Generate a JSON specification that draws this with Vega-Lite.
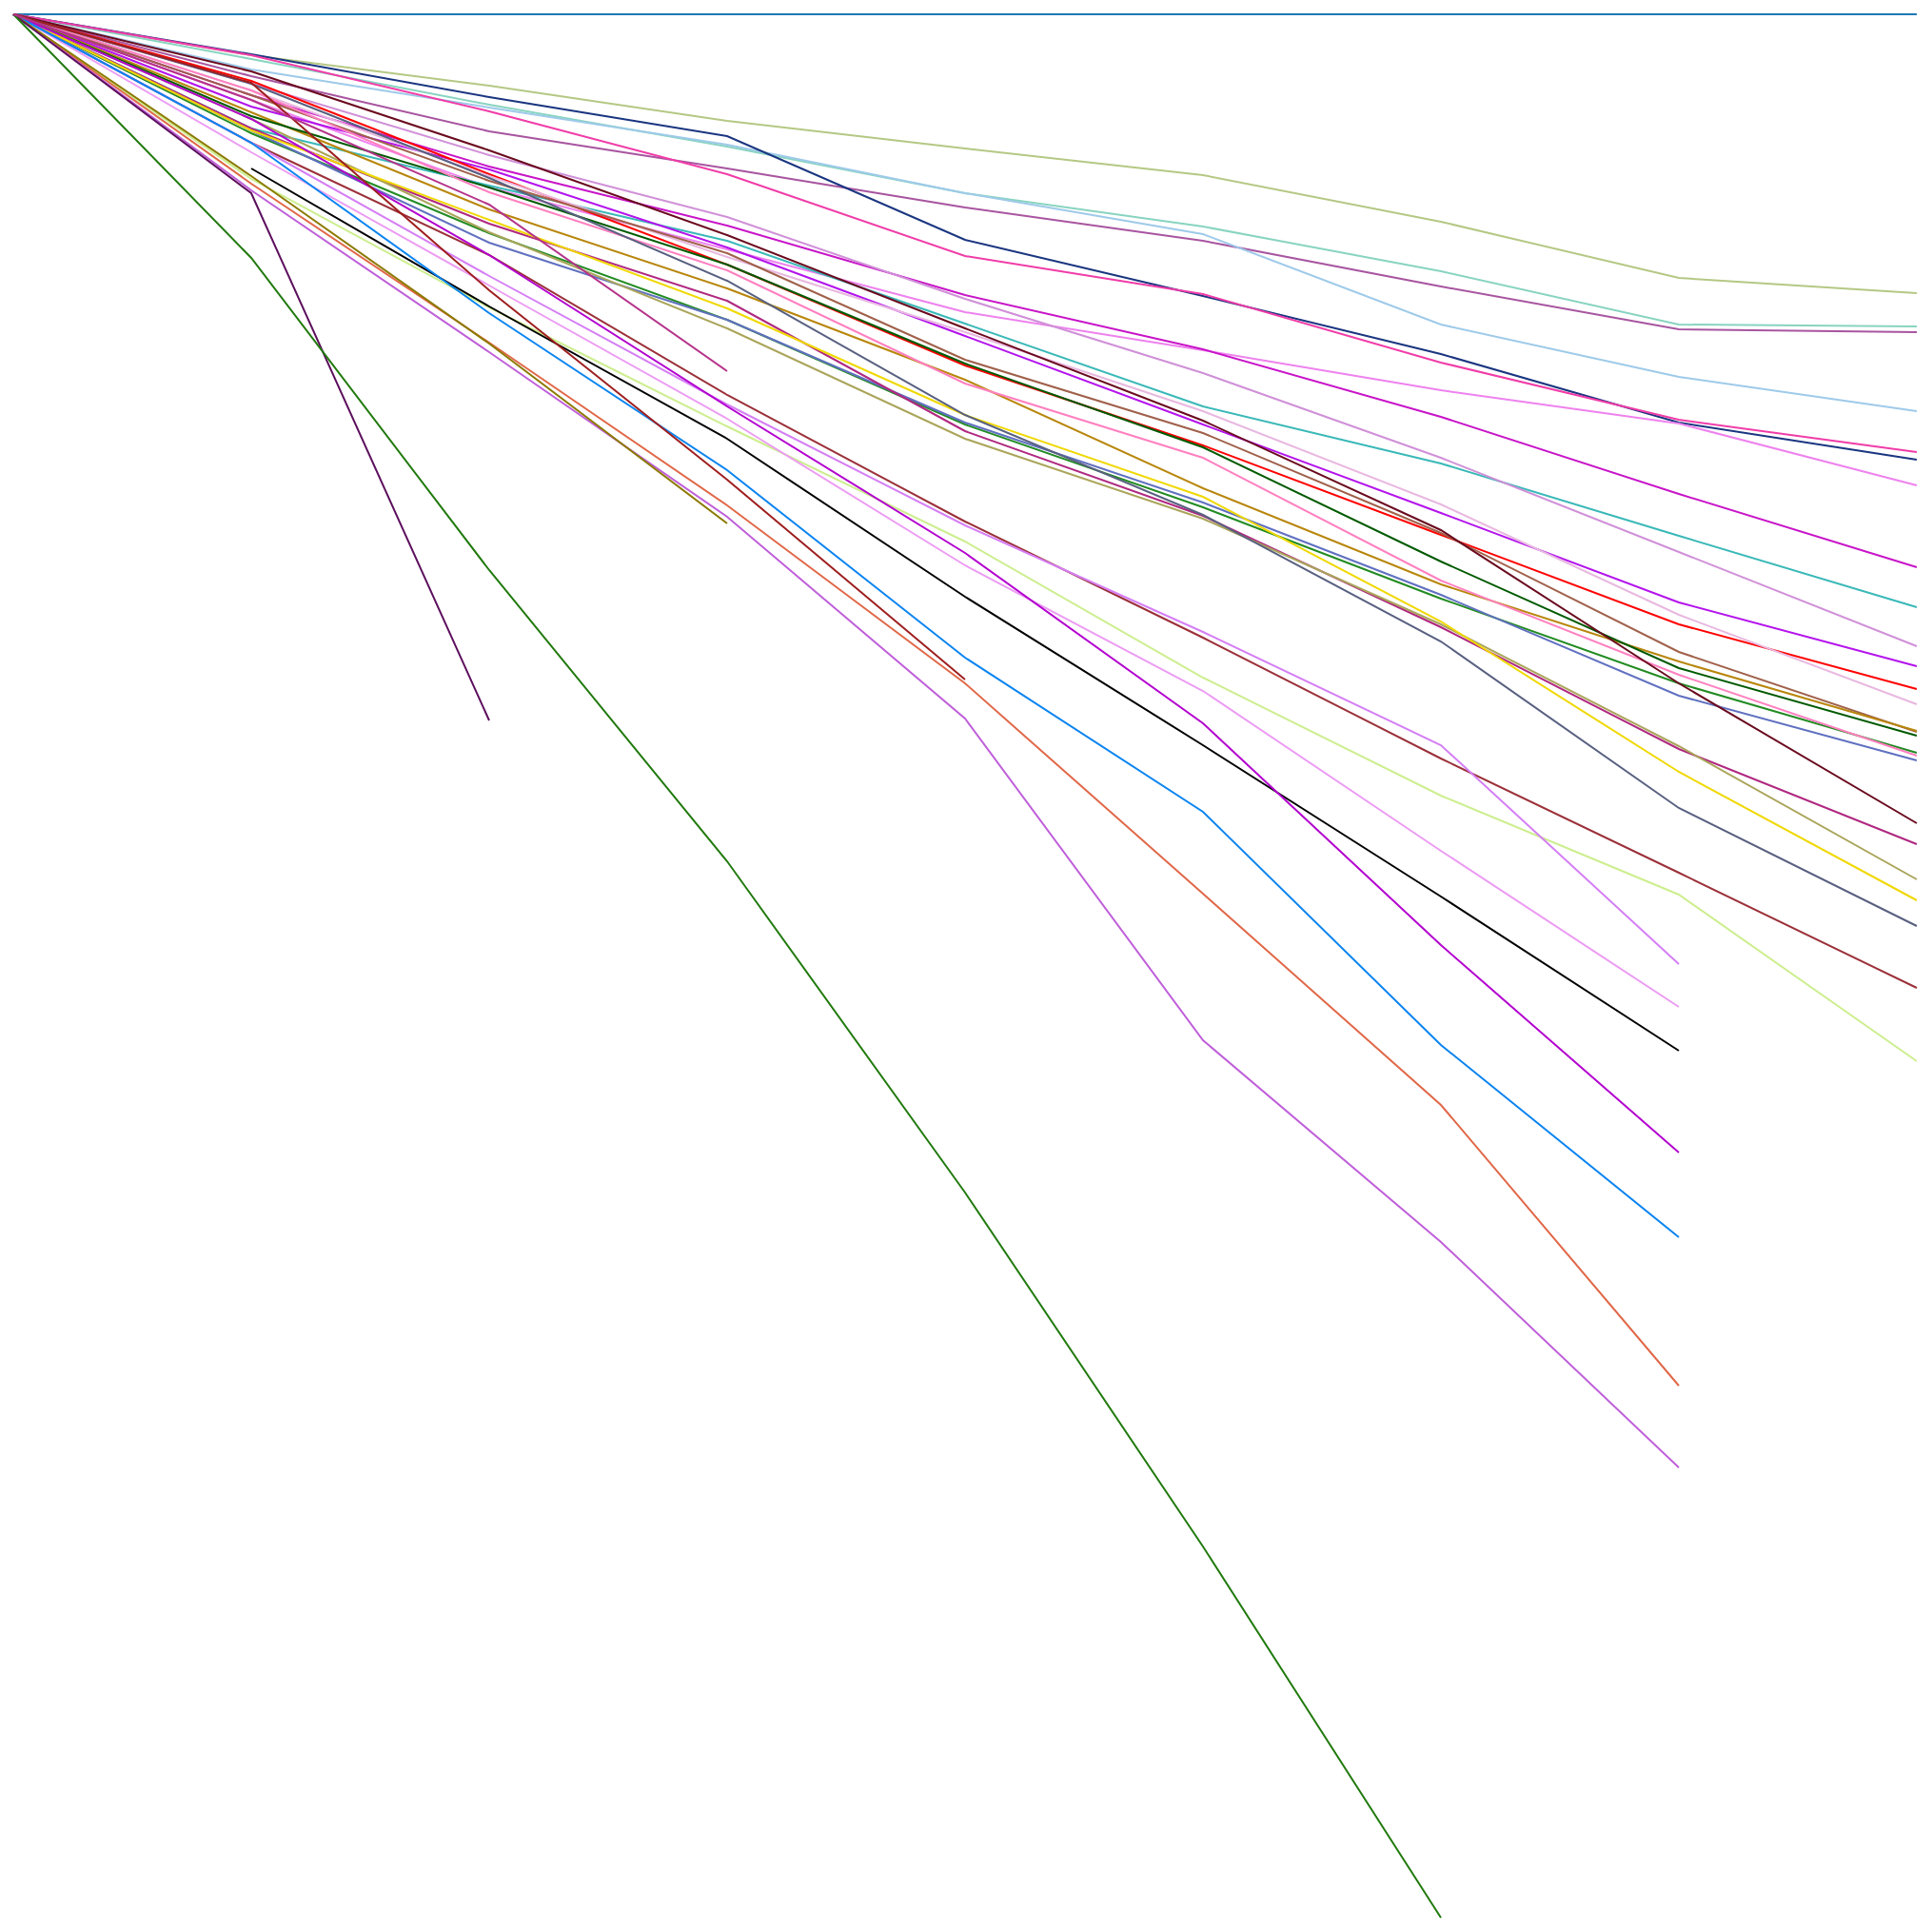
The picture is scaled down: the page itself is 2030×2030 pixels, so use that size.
{
  "$schema": "https://vega.github.io/schema/vega-lite/v6.json",
  "width": 2000,
  "height": 2000,
  "autosize": {"type": "none"},
  "padding": {"left": 14, "top": 15, "right": 16, "bottom": 15},
  "background": "white",
  "config": {"view": {"stroke": null}},
  "data": {"values": [
    {"s":"A","x":0,"v":100},{"s":"A","x":1,"v":100},{"s":"A","x":2,"v":100},{"s":"A","x":3,"v":100},{"s":"A","x":4,"v":100},{"s":"A","x":5,"v":100},{"s":"A","x":6,"v":100},{"s":"A","x":7,"v":100},{"s":"A","x":8,"v":100},
    {"s":"B","x":0,"v":100},{"s":"B","x":1,"v":97.85},{"s":"B","x":2,"v":96.25},{"s":"B","x":3,"v":94.4},{"s":"B","x":4,"v":92.95},{"s":"B","x":5,"v":91.55},{"s":"B","x":6,"v":89.1},{"s":"B","x":7,"v":86.15},{"s":"B","x":8,"v":85.35},
    {"s":"C","x":0,"v":100},{"s":"C","x":1,"v":97.65},{"s":"C","x":2,"v":95.25},{"s":"C","x":3,"v":93.05},{"s":"C","x":4,"v":90.6},{"s":"C","x":5,"v":88.85},{"s":"C","x":6,"v":86.5},{"s":"C","x":7,"v":83.7},{"s":"C","x":8,"v":83.6},
    {"s":"D","x":0,"v":100},{"s":"D","x":1,"v":96.75},{"s":"D","x":2,"v":93.85},{"s":"D","x":3,"v":91.9},{"s":"D","x":4,"v":89.85},{"s":"D","x":5,"v":88.1},{"s":"D","x":6,"v":85.7},{"s":"D","x":7,"v":83.45},{"s":"D","x":8,"v":83.3},
    {"s":"E","x":0,"v":100},{"s":"E","x":1,"v":97.1},{"s":"E","x":2,"v":95.1},{"s":"E","x":3,"v":93.15},{"s":"E","x":4,"v":90.6},{"s":"E","x":5,"v":88.45},{"s":"E","x":6,"v":83.7},{"s":"E","x":7,"v":80.95},{"s":"E","x":8,"v":79.15},
    {"s":"F","x":0,"v":100},{"s":"F","x":1,"v":97.9},{"s":"F","x":2,"v":95.65},{"s":"F","x":3,"v":93.6},{"s":"F","x":4,"v":88.15},{"s":"F","x":5,"v":85.2},{"s":"F","x":6,"v":82.15},{"s":"F","x":7,"v":78.55},{"s":"F","x":8,"v":76.6},
    {"s":"G","x":0,"v":100},{"s":"G","x":1,"v":97.85},{"s":"G","x":2,"v":94.9},{"s":"G","x":3,"v":91.6},{"s":"G","x":4,"v":87.3},{"s":"G","x":5,"v":85.3},{"s":"G","x":6,"v":81.7},{"s":"G","x":7,"v":78.7},{"s":"G","x":8,"v":77.0},
    {"s":"H","x":0,"v":100},{"s":"H","x":1,"v":95.5},{"s":"H","x":2,"v":90.9},{"s":"H","x":3,"v":87.65},{"s":"H","x":4,"v":84.35},{"s":"H","x":5,"v":82.35},{"s":"H","x":6,"v":80.25},{"s":"H","x":7,"v":78.5},{"s":"H","x":8,"v":75.25},
    {"s":"I","x":0,"v":100},{"s":"I","x":1,"v":95.75},{"s":"I","x":2,"v":92.0},{"s":"I","x":3,"v":88.9},{"s":"I","x":4,"v":85.25},{"s":"I","x":5,"v":82.4},{"s":"I","x":6,"v":78.85},{"s":"I","x":7,"v":74.8},{"s":"I","x":8,"v":70.95},
    {"s":"J","x":0,"v":100},{"s":"J","x":1,"v":94.0},{"s":"J","x":2,"v":91.0},{"s":"J","x":3,"v":88.1},{"s":"J","x":4,"v":83.75},{"s":"J","x":5,"v":79.4},{"s":"J","x":6,"v":76.4},{"s":"J","x":7,"v":72.6},{"s":"J","x":8,"v":68.85},
    {"s":"K","x":0,"v":100},{"s":"K","x":1,"v":96.35},{"s":"K","x":2,"v":92.6},{"s":"K","x":3,"v":89.35},{"s":"K","x":4,"v":85.05},{"s":"K","x":5,"v":81.15},{"s":"K","x":6,"v":76.7},{"s":"K","x":7,"v":71.75},{"s":"K","x":8,"v":66.8},
    {"s":"L","x":0,"v":100},{"s":"L","x":1,"v":95.15},{"s":"L","x":2,"v":91.85},{"s":"L","x":3,"v":87.75},{"s":"L","x":4,"v":83.1},{"s":"L","x":5,"v":78.45},{"s":"L","x":6,"v":73.8},{"s":"L","x":7,"v":69.1},{"s":"L","x":8,"v":65.75},
    {"s":"M","x":0,"v":100},{"s":"M","x":1,"v":96.5},{"s":"M","x":2,"v":91.6},{"s":"M","x":3,"v":86.85},{"s":"M","x":4,"v":81.55},{"s":"M","x":5,"v":77.35},{"s":"M","x":6,"v":72.65},{"s":"M","x":7,"v":67.95},{"s":"M","x":8,"v":64.55},
    {"s":"N","x":0,"v":100},{"s":"N","x":1,"v":96.0},{"s":"N","x":2,"v":91.5},{"s":"N","x":3,"v":87.25},{"s":"N","x":4,"v":83.3},{"s":"N","x":5,"v":79.15},{"s":"N","x":6,"v":74.25},{"s":"N","x":7,"v":68.45},{"s":"N","x":8,"v":63.75},
    {"s":"O","x":0,"v":100},{"s":"O","x":1,"v":95.75},{"s":"O","x":2,"v":91.25},{"s":"O","x":3,"v":87.45},{"s":"O","x":4,"v":81.85},{"s":"O","x":5,"v":78.0},{"s":"O","x":6,"v":72.75},{"s":"O","x":7,"v":66.5},{"s":"O","x":8,"v":62.3},
    {"s":"P","x":0,"v":100},{"s":"P","x":1,"v":94.85},{"s":"P","x":2,"v":89.75},{"s":"P","x":3,"v":85.6},{"s":"P","x":4,"v":80.8},{"s":"P","x":5,"v":75.1},{"s":"P","x":6,"v":70.05},{"s":"P","x":7,"v":66.0},{"s":"P","x":8,"v":62.35},
    {"s":"Q","x":0,"v":100},{"s":"Q","x":1,"v":94.65},{"s":"Q","x":2,"v":90.9},{"s":"Q","x":3,"v":86.85},{"s":"Q","x":4,"v":81.65},{"s":"Q","x":5,"v":77.25},{"s":"Q","x":6,"v":71.25},{"s":"Q","x":7,"v":65.65},{"s":"Q","x":8,"v":62.1},
    {"s":"R","x":0,"v":100},{"s":"R","x":1,"v":93.75},{"s":"R","x":2,"v":88.5},{"s":"R","x":3,"v":83.95},{"s":"R","x":4,"v":78.45},{"s":"R","x":5,"v":74.1},{"s":"R","x":6,"v":69.3},{"s":"R","x":7,"v":64.85},{"s":"R","x":8,"v":61.2},
    {"s":"S","x":0,"v":100},{"s":"S","x":1,"v":96.0},{"s":"S","x":2,"v":90.65},{"s":"S","x":3,"v":86.55},{"s":"S","x":4,"v":80.6},{"s":"S","x":5,"v":76.7},{"s":"S","x":6,"v":70.25},{"s":"S","x":7,"v":65.3},{"s":"S","x":8,"v":61.05},
    {"s":"T","x":0,"v":100},{"s":"T","x":1,"v":93.9},{"s":"T","x":2,"v":88.0},{"s":"T","x":3,"v":83.95},{"s":"T","x":4,"v":78.55},{"s":"T","x":5,"v":74.35},{"s":"T","x":6,"v":69.5},{"s":"T","x":7,"v":64.2},{"s":"T","x":8,"v":60.8},
    {"s":"U","x":0,"v":100},{"s":"U","x":1,"v":97.0},{"s":"U","x":2,"v":92.85},{"s":"U","x":3,"v":88.4},{"s":"U","x":4,"v":83.5},{"s":"U","x":5,"v":78.65},{"s":"U","x":6,"v":72.9},{"s":"U","x":7,"v":64.85},{"s":"U","x":8,"v":57.5},
    {"s":"V","x":0,"v":100},{"s":"V","x":1,"v":94.0},{"s":"V","x":2,"v":89.0},{"s":"V","x":3,"v":84.95},{"s":"V","x":4,"v":78.1},{"s":"V","x":5,"v":73.65},{"s":"V","x":6,"v":67.8},{"s":"V","x":7,"v":61.4},{"s":"V","x":8,"v":56.4},
    {"s":"W","x":0,"v":100},{"s":"W","x":1,"v":94.5},{"s":"W","x":2,"v":88.55},{"s":"W","x":3,"v":83.5},{"s":"W","x":4,"v":77.7},{"s":"W","x":5,"v":73.5},{"s":"W","x":6,"v":67.95},{"s":"W","x":7,"v":61.55},{"s":"W","x":8,"v":54.55},
    {"s":"X","x":0,"v":100},{"s":"X","x":1,"v":93.9},{"s":"X","x":2,"v":89.2},{"s":"X","x":3,"v":84.55},{"s":"X","x":4,"v":78.95},{"s":"X","x":5,"v":74.65},{"s":"X","x":6,"v":68.1},{"s":"X","x":7,"v":60.2},{"s":"X","x":8,"v":53.45},
    {"s":"Y","x":0,"v":100},{"s":"Y","x":1,"v":96.35},{"s":"Y","x":2,"v":91.4},{"s":"Y","x":3,"v":86.0},{"s":"Y","x":4,"v":78.95},{"s":"Y","x":5,"v":73.7},{"s":"Y","x":6,"v":67.05},{"s":"Y","x":7,"v":58.3},{"s":"Y","x":8,"v":52.1},
    {"s":"Z","x":0,"v":100},{"s":"Z","x":1,"v":93.25},{"s":"Z","x":2,"v":87.35},{"s":"Z","x":3,"v":80.0},{"s":"Z","x":4,"v":73.35},{"s":"Z","x":5,"v":67.25},{"s":"Z","x":6,"v":60.9},{"s":"Z","x":7,"v":54.9},{"s":"Z","x":8,"v":48.85},
    {"s":"AA","x":0,"v":100},{"s":"AA","x":1,"v":91.35},{"s":"AA","x":2,"v":84.6},{"s":"AA","x":3,"v":78.35},{"s":"AA","x":4,"v":72.3},{"s":"AA","x":5,"v":65.15},{"s":"AA","x":6,"v":58.95},{"s":"AA","x":7,"v":53.75},{"s":"AA","x":8,"v":45.0},
    {"s":"AB","x":0,"v":100},{"s":"AB","x":1,"v":93.25},{"s":"AB","x":2,"v":86.25},{"s":"AB","x":3,"v":79.5},{"s":"AB","x":4,"v":73.15},{"s":"AB","x":5,"v":67.55},{"s":"AB","x":6,"v":61.6},{"s":"AB","x":7,"v":50.1},
    {"s":"AC","x":0,"v":100},{"s":"AC","x":1,"v":92.75},{"s":"AC","x":2,"v":85.75},{"s":"AC","x":3,"v":78.75},{"s":"AC","x":4,"v":71.05},{"s":"AC","x":5,"v":64.45},{"s":"AC","x":6,"v":56.05},{"s":"AC","x":7,"v":47.85},
    {"s":"AD","x":1,"v":91.9},{"s":"AD","x":2,"v":84.65},{"s":"AD","x":3,"v":77.7},{"s":"AD","x":4,"v":69.4},{"s":"AD","x":5,"v":61.6},{"s":"AD","x":6,"v":53.65},{"s":"AD","x":7,"v":45.55},
    {"s":"AE","x":0,"v":100},{"s":"AE","x":1,"v":94.5},{"s":"AE","x":2,"v":87.35},{"s":"AE","x":3,"v":79.4},{"s":"AE","x":4,"v":71.7},{"s":"AE","x":5,"v":62.75},{"s":"AE","x":6,"v":51.1},{"s":"AE","x":7,"v":40.2},
    {"s":"AF","x":0,"v":100},{"s":"AF","x":1,"v":93.25},{"s":"AF","x":2,"v":84.3},{"s":"AF","x":3,"v":76.05},{"s":"AF","x":4,"v":66.2},{"s":"AF","x":5,"v":58.1},{"s":"AF","x":6,"v":45.85},{"s":"AF","x":7,"v":35.75},
    {"s":"AG","x":0,"v":100},{"s":"AG","x":1,"v":91.1},{"s":"AG","x":2,"v":82.75},{"s":"AG","x":3,"v":74.2},{"s":"AG","x":4,"v":64.85},{"s":"AG","x":5,"v":53.8},{"s":"AG","x":6,"v":42.7},{"s":"AG","x":7,"v":27.95},
    {"s":"AH","x":0,"v":100},{"s":"AH","x":1,"v":96.4},{"s":"AH","x":2,"v":85.5},{"s":"AH","x":3,"v":75.55},{"s":"AH","x":4,"v":65.05},
    {"s":"AI","x":0,"v":100},{"s":"AI","x":1,"v":90.75},{"s":"AI","x":2,"v":82.25},{"s":"AI","x":3,"v":73.6},{"s":"AI","x":4,"v":63.0},{"s":"AI","x":5,"v":46.1},{"s":"AI","x":6,"v":35.5},{"s":"AI","x":7,"v":23.65},
    {"s":"AJ","x":0,"v":100},{"s":"AJ","x":1,"v":91.5},{"s":"AJ","x":2,"v":82.7},{"s":"AJ","x":3,"v":73.25},
    {"s":"AK","x":0,"v":100},{"s":"AK","x":1,"v":90.6},{"s":"AK","x":2,"v":62.9},
    {"s":"AL","x":0,"v":100},{"s":"AL","x":1,"v":87.2},{"s":"AL","x":2,"v":70.8},{"s":"AL","x":3,"v":55.5},{"s":"AL","x":4,"v":38.1},{"s":"AL","x":5,"v":19.5},{"s":"AL","x":6,"v":0},
    {"s":"AM","x":0,"v":100},{"s":"AM","x":1,"v":95.5},{"s":"AM","x":2,"v":90.0},{"s":"AM","x":3,"v":81.25}
  ]},
  "mark": {"type": "line", "strokeWidth": 2, "interpolate": "linear"},
  "encoding": {
    "x": {"field": "x", "type": "quantitative", "axis": null, "scale": {"domain": [0, 8], "nice": false, "zero": false}},
    "y": {"field": "v", "type": "quantitative", "axis": null, "scale": {"domain": [0, 100], "nice": false}},
    "color": {"field": "s", "type": "nominal", "legend": null,
      "scale": {
        "domain": ["A","B","C","D","E","F","G","H","I","J","K","L","M","N","O","P","Q","R","S","T","U","V","W","X","Y","Z","AA","AB","AC","AD","AE","AF","AG","AH","AI","AJ","AK","AL","AM"],
        "range": ["#1f77b4","#b5c884","#88d4c0","#a855a0","#9ecae9","#1a3580","#f03ca8","#ee82ee","#c814c8","#3ab8b8","#d090d8","#b413ec","#ff0000","#e8b8e0","#a0604a","#b8860b","#005a00","#228b22","#ff80c0","#6070c0","#6a0a1e","#b02880","#aaa55a","#f0d800","#586080","#9b3039","#cdee8f","#d57ff5","#ec9cf3","#000000","#b300cf","#0a84f0","#e06848","#9e1f1f","#bf5fd9","#8c7a00","#5c0f5c","#217a0e","#b5338a"]
      }
    },
    "order": {"field": "x", "type": "quantitative"}
  }
}
